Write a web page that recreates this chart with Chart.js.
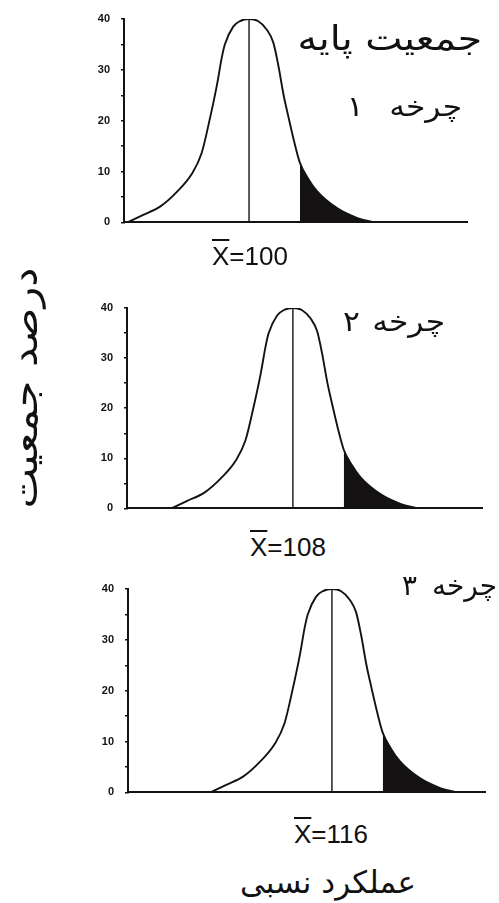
<!DOCTYPE html>
<html lang="fa">
<head>
<meta charset="utf-8">
<script src="https://cdn.jsdelivr.net/npm/chart.js@4.4.1/dist/chart.umd.min.js"></script>
<style>
    html, body { margin: 0; padding: 0; background: #fff; }
    #page { position: relative; width: 499px; height: 903px; overflow: hidden; color: #111; }
    .panel { position: absolute; left: 0; width: 499px; }
    .fa { position: absolute; direction: rtl; white-space: nowrap; line-height: 1; font-family: "DejaVu Sans", sans-serif; }
    .cyc { font-size: 28px; transform: scaleX(1.12); transform-origin: right center; }
    .mean { position: absolute; white-space: nowrap; line-height: 1; font-family: "Liberation Sans", Arial, sans-serif; font-size: 26px; }
    .bar { text-decoration: overline; text-decoration-thickness: 2px; }
</style>
</head>
<body>
<div id="page">
    <div class="panel" style="top:0;height:240px"><canvas id="c1"></canvas></div>
    <div class="panel" style="top:290px;height:236px"><canvas id="c2"></canvas></div>
    <div class="panel" style="top:570px;height:240px"><canvas id="c3"></canvas></div>

    <div class="fa" style="right:17px;top:21px;font-size:34px;transform:scaleX(1.16);transform-origin:right center">جمعیت پایه</div>
    <div class="fa cyc" style="right:37px;top:93px;word-spacing:14px">چرخه ۱</div>
    <div class="fa cyc" style="right:54px;top:308px;word-spacing:2px">چرخه ۲</div>
    <div class="fa cyc" style="right:2px;top:572px;word-spacing:6px;transform:scaleX(1.0)">چرخه ۳</div>

    <div class="mean" style="left:212px;top:243px"><span class="bar">X</span>=100</div>
    <div class="mean" style="left:250px;top:534px"><span class="bar">X</span>=108</div>
    <div class="mean" style="left:294px;top:821px"><span class="bar">X</span>=116</div>

    <div class="fa" style="left:240px;top:867px;font-size:31px">عملکرد نسبی</div>
    <div class="fa" style="left:-125px;top:370px;width:300px;text-align:center;font-size:36px;transform:rotate(-90deg) scaleX(1.2);transform-origin:center">درصد جمعیت</div>
</div>
<script>
// relative performance (x) and percent of population (y)
const cycle1X = [75.4, 78.6, 82.0, 85.4, 88.4, 90.4, 92.1, 93.5, 94.5, 95.1, 96.8, 98.2, 100, 101.8, 103.6, 104.9, 105.9, 107.0, 108.0, 109.1, 110.3, 111.9, 113.7, 117.8, 121.8, 125.2];
const cycle2X = [83.4, 86.6, 90.0, 93.4, 96.4, 98.4, 100.1, 101.5, 102.5, 103.1, 104.8, 106.2, 108, 109.8, 111.6, 112.9, 113.9, 115.0, 116.0, 117.1, 118.3, 119.9, 121.7, 125.8, 129.8, 133.2];
const cycle3X = [91.4, 94.6, 98.0, 101.4, 104.4, 106.4, 108.1, 109.5, 110.5, 111.1, 112.8, 114.2, 116, 117.8, 119.6, 120.9, 121.9, 123.0, 124.0, 125.1, 126.3, 127.9, 129.7, 133.8, 137.8, 141.2];
const percentY = [0, 1.5, 3.1, 6.0, 9.5, 13.6, 20.5, 27, 32.5, 35, 38.5, 39.6, 40, 39.6, 37.9, 35.4, 31, 25, 20.6, 16, 11.7, 8.7, 6.2, 2.8, 0.9, 0];

const means = [100, 108, 116];
const tailFrom = [110.3, 118.3, 126.3];
const yTicks = [0, 10, 20, 30, 40];

const ink = "#151213";

function makeChart(id, xs, mean, cut, box) {
    const pts = xs.map((x, i) => ({ x: x, y: percentY[i] }));
    const tail = pts.filter((p) => p.x >= cut);

    return new Chart(document.getElementById(id), {
        type: "line",
        data: {
            datasets: [
                {
                    data: pts,
                    borderColor: ink,
                    borderWidth: 1.9,
                    pointRadius: 0,
                    cubicInterpolationMode: "monotone",
                    fill: false,
                },
                {
                    data: [{ x: mean, y: 0 }, { x: mean, y: 40 }],
                    borderColor: ink,
                    borderWidth: 1.4,
                    pointRadius: 0,
                    fill: false,
                },
                {
                    data: tail,
                    borderColor: ink,
                    borderWidth: 0,
                    backgroundColor: ink,
                    pointRadius: 0,
                    cubicInterpolationMode: "monotone",
                    fill: "origin",
                },
            ],
        },
        options: {
            responsive: true,
            maintainAspectRatio: false,
            animation: false,
            events: [],
            layout: { padding: { left: 0, top: box.top, right: box.right, bottom: 0 } },
            plugins: { legend: { display: false }, tooltip: { enabled: false } },
            scales: {
                x: {
                    type: "linear",
                    min: box.min,
                    max: box.max,
                    ticks: { display: false },
                    grid: { display: false },
                    border: { display: true, color: ink, width: 2 },
                    afterFit: (scale) => { scale.height = box.bottom; },
                },
                y: {
                    min: 0,
                    max: 40,
                    ticks: {
                        stepSize: 5,
                        padding: 11,
                        color: ink,
                        font: { family: "Liberation Sans", size: 11, weight: "bold" },
                        callback: (v) => (yTicks.includes(v) ? v : ""),
                    },
                    grid: { display: true, drawOnChartArea: false, tickLength: 3, color: ink, lineWidth: 1.5 },
                    border: { display: true, color: ink, width: 2 },
                    afterFit: (scale) => { scale.width = box.left; },
                },
            },
        },
    });
}

makeChart("c1", cycle1X, means[0], tailFrom[0], { left: 124, top: 19, right: 32, bottom: 11, min: 74.7, max: 144.1 });
makeChart("c2", cycle2X, means[1], tailFrom[1], { left: 127, top: 18, right: 17, bottom: 10, min: 74.4, max: 146.3 });
makeChart("c3", cycle3X, means[2], tailFrom[2], { left: 128, top: 19, right: 14, bottom: 11, min: 74.7, max: 147 });
</script>
</body>
</html>
